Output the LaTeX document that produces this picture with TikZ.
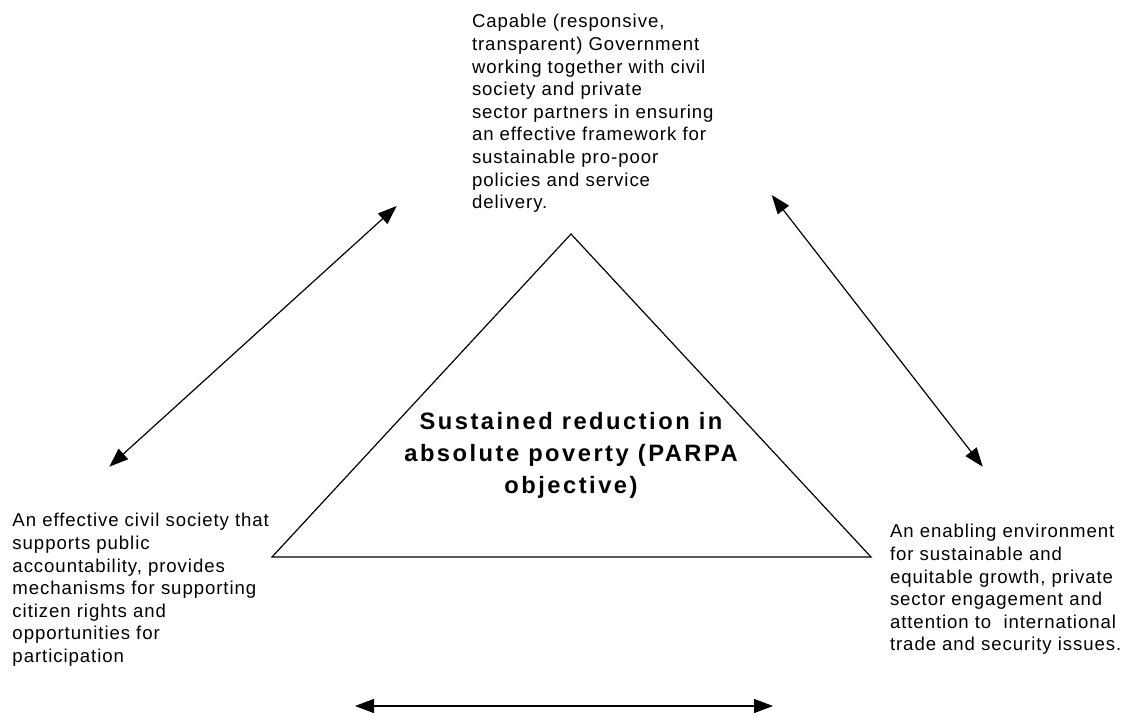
\documentclass[tikz,border=0pt]{standalone}
\usepackage{fontspec}
\setmainfont{Liberation Sans}
\newfontfamily\bodyfont[LetterSpace=5]{Liberation Sans}
\newfontfamily\ctrfont[LetterSpace=10.5]{Liberation Sans}
\usetikzlibrary{arrows.meta}
\begin{document}
\begin{tikzpicture}[x=1pt,y=-1pt,
  body/.style={inner sep=0pt, outer sep=0pt, align=left, anchor=north west,
    font=\bodyfont\fontsize{18.6}{22.6}\selectfont},
  centre/.style={inner sep=0pt, outer sep=0pt, align=center, anchor=north,
    font=\ctrfont\bfseries\fontsize{23.7}{32}\selectfont},
  link/.style={line width=1.2pt, {Triangle[length=19pt,width=14pt]}-{Triangle[length=19pt,width=14pt]}},
  tri/.style={line width=1.2pt, line join=miter}]
\useasboundingbox (0,0) rectangle (1124,715);

% text blocks
\node[body] (gov) at (472,14.5) {Capable (responsive,\\transparent) Government\\working together with civil\\society and private\\sector partners in ensuring\\an effective framework for\\sustainable pro-poor\\policies and service\\delivery.};
\node[body] (civ) at (12.5,513.5) {An effective civil society that\\supports public\\accountability, provides\\mechanisms for supporting\\citizen rights and\\opportunities for\\participation};
\node[body] (env) at (890,524.5) {An enabling environment\\for sustainable and\\equitable growth, private\\sector engagement and\\attention to~ international\\trade and security issues.};

% triangle
\coordinate (apex) at (571,234);
\coordinate (bl) at (272,557);
\coordinate (br) at (871,557);
\draw[tri] (apex) -- (bl) -- (br) -- cycle;
\node[centre] (goal) at (571,412.7) {Sustained reduction in\\absolute poverty (PARPA\\objective)};

% arrows
\coordinate (la1) at (109.3,466.7);
\coordinate (la2) at (396.7,206);
\coordinate (ra1) at (771.7,195);
\coordinate (ra2) at (982.7,466.7);
\coordinate (ba1) at (355,706);
\coordinate (ba2) at (773,706);
\draw[link] (la1) -- (la2);
\draw[link] (ra1) -- (ra2);
\draw[link] (ba1) -- (ba2);
\end{tikzpicture}
\end{document}
